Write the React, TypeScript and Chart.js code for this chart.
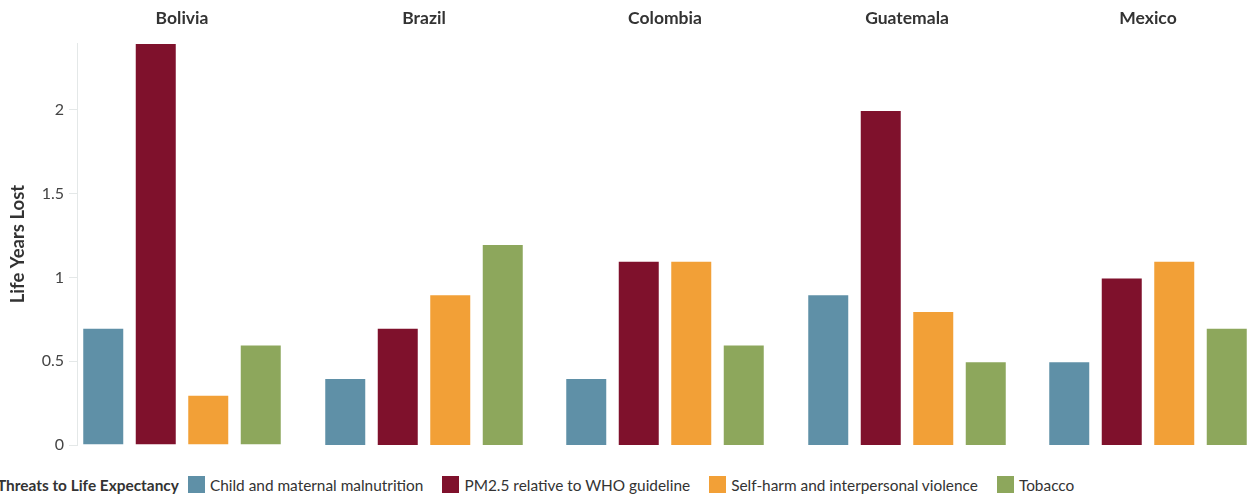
import React, { useEffect, useRef } from "react";
import { Chart, registerables } from "chart.js";

Chart.register(...registerables);

const countries = ["Bolivia", "Brazil", "Colombia", "Guatemala", "Mexico"];
const seriesNames = [
  "Child and maternal malnutrition",
  "PM2.5 relative to WHO guideline",
  "Self-harm and interpersonal violence",
  "Tobacco",
];
const childMalnutrition = [0.7, 0.4, 0.4, 0.9, 0.5];
const pm25 = [2.4, 0.7, 1.1, 2.0, 1.0];
const selfHarm = [0.3, 0.9, 1.1, 0.8, 1.1];
const tobacco = [0.6, 1.2, 0.6, 0.5, 0.7];
const seriesValues = [childMalnutrition, pm25, selfHarm, tobacco];
const seriesColors = ["#5f90a7", "#7f112c", "#f2a037", "#8da75c"];
const yTickValues = [0, 0.5, 1, 1.5, 2];
const yMax = 2.4;
const yTitle = "Life Years Lost";
const legendTitle = "Threats to Life Expectancy";

const FONT = "Lato, 'Noto Sans', sans-serif";
const AXIS_W = 77;
const FACET_W = 210;
const FACET_PITCH = 241.5;
const TOP_H = 43;
const CANVAS_H = 458;
const BOTTOM_PAD = 13;

function Facet({ index }: { index: number }) {
  const ref = useRef<HTMLCanvasElement | null>(null);
  const first = index === 0;
  useEffect(() => {
    if (!ref.current) return;
    const chart = new Chart(ref.current, {
      type: "bar",
      data: {
        labels: [countries[index]],
        datasets: seriesNames.map((name, s) => ({
          label: name,
          data: [seriesValues[s][index]],
          backgroundColor: seriesColors[s],
          borderColor: "rgba(255,255,255,0.35)",
          borderWidth: 1,
          barPercentage: 0.8,
          categoryPercentage: 1,
        })),
      },
      options: {
        responsive: true,
        maintainAspectRatio: false,
        animation: false,
        layout: { padding: { left: 0, right: 0, top: 0, bottom: BOTTOM_PAD } },
        plugins: {
          legend: { display: false },
          tooltip: { enabled: false },
        },
        scales: {
          x: {
            type: "category",
            position: "top",
            offset: true,
            grid: { display: false, drawTicks: false },
            border: { display: false },
            ticks: {
              font: { family: FONT, size: 17.5, weight: "bold" },
              color: "#333333",
              padding: 14,
              maxRotation: 0,
            },
            afterFit: (scale: any) => {
              scale.height = TOP_H;
              scale.paddingLeft = 0;
              scale.paddingRight = 0;
            },
          },
          y: {
            display: first,
            min: 0,
            max: yMax,
            grid: {
              display: true,
              drawOnChartArea: false,
              drawTicks: true,
              tickLength: 8,
              color: "#e4e8e8",
            },
            border: { display: true, color: "#e4e8e8", width: 1 },
            afterBuildTicks: (scale: any) => {
              scale.ticks = yTickValues.map((v) => ({ value: v }));
            },
            ticks: {
              font: { family: FONT, size: 16 },
              color: "#444444",
              padding: 5,
              callback: (v: any) => String(v),
            },
            title: {
              display: true,
              text: yTitle,
              font: { family: FONT, size: 18.5, weight: "bold" },
              color: "#333333",
              padding: { top: 7, bottom: 0 },
            },
            afterFit: (scale: any) => {
              scale.width = first ? AXIS_W : 0;
              scale.paddingTop = 0;
              scale.paddingBottom = 0;
            },
          },
        },
      },
    } as any);
    return () => chart.destroy();
  }, [index]);

  const left = first ? 0 : Math.round(AXIS_W + FACET_PITCH * index);
  const width = first ? AXIS_W + FACET_W : FACET_W;
  return (
    <div
      style={{
        position: "absolute",
        left,
        top: 0,
        width,
        height: CANVAS_H,
      }}
    >
      <canvas ref={ref} />
    </div>
  );
}

export default function App() {
  return (
    <div
      style={{
        position: "fixed",
        left: 0,
        top: 0,
        width: 1249,
        height: 495,
        overflow: "hidden",
        background: "#ffffff",
        fontFamily: FONT,
      }}
    >
      {countries.map((c, i) => (
        <Facet key={c} index={i} />
      ))}
      <div
        style={{
          position: "absolute",
          left: -3,
          top: 475,
          height: 19,
          display: "flex",
          alignItems: "center",
          whiteSpace: "nowrap",
          fontSize: 15.4,
          color: "#333333",
        }}
      >
        <span style={{ fontWeight: 700, marginRight: 9 }}>{legendTitle}</span>
        {seriesNames.map((name, s) => (
          <span
            key={name}
            style={{ display: "flex", alignItems: "center", marginRight: 19 }}
          >
            <span
              style={{
                display: "inline-block",
                width: 17,
                height: 17,
                background: seriesColors[s],
                marginRight: 5,
              }}
            />
            <span>{name}</span>
          </span>
        ))}
      </div>
    </div>
  );
}
